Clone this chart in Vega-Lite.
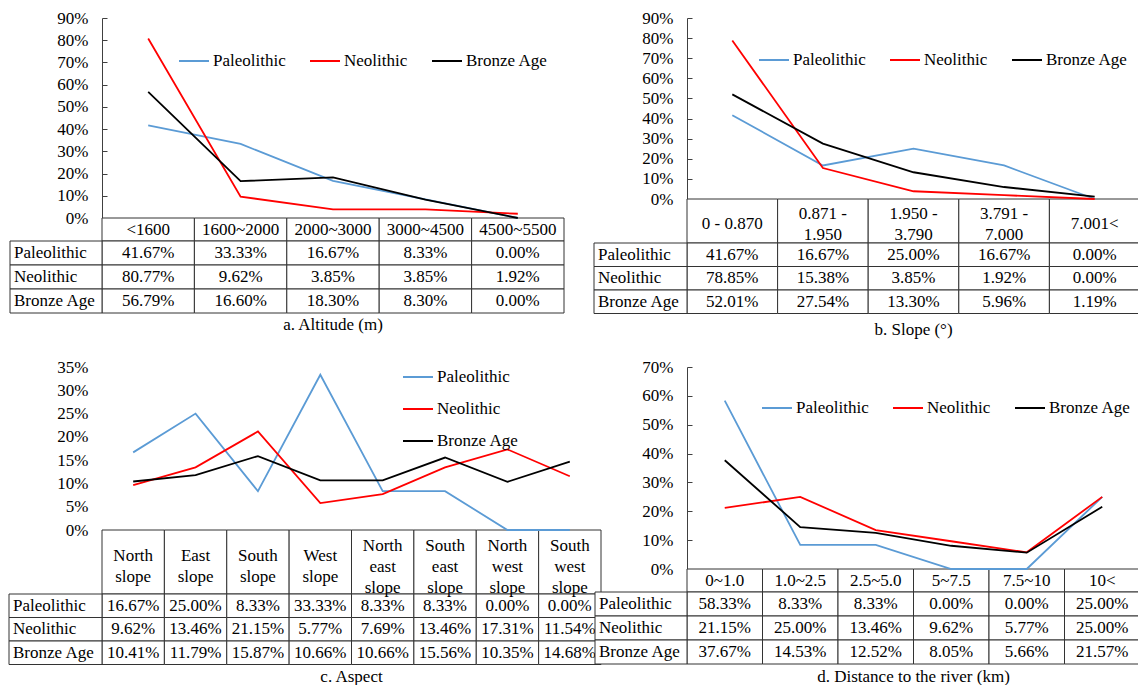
{
  "$schema": "https://vega.github.io/schema/vega-lite/v6.json",
  "padding": {"left": 8, "top": 9, "right": 0, "bottom": 0},
  "background": "white",
  "config": {
    "view": {"stroke": null},
    "font": "Liberation Serif, Times New Roman, serif",
    "title": {"font": "Liberation Serif, Times New Roman, serif", "fontSize": 17, "fontWeight": "normal", "color": "black"},
    "legend": {"labelFont": "Liberation Serif, Times New Roman, serif", "labelFontSize": 17, "labelColor": "black", "symbolType": "stroke", "symbolSize": 900, "symbolStrokeWidth": 2, "labelOffset": 3, "columnPadding": 20, "padding": 0},
    "axis": {"labelFont": "Liberation Serif, Times New Roman, serif", "labelFontSize": 17, "labelColor": "black", "grid": false, "title": null, "domainColor": "#404040", "tickColor": "#404040"},
    "text": {"font": "Liberation Serif, Times New Roman, serif", "fontSize": 17, "fill": "black", "baseline": "middle"}
  },
  "resolve": {"scale": {"color": "independent"}, "legend": {"color": "independent"}},
  "vconcat": [
    {
      "resolve": {"scale": {"color": "independent"}, "legend": {"color": "independent"}},
      "hconcat": [
        {
          "width": 462, "height": 200,
          "title": {"text": "a. Altitude (m)", "orient": "bottom", "offset": 3},
          "data": {"values": [
            {"cat": "<1600", "period": "Paleolithic", "v": 0.4167},
            {"cat": "1600~2000", "period": "Paleolithic", "v": 0.3333},
            {"cat": "2000~3000", "period": "Paleolithic", "v": 0.1667},
            {"cat": "3000~4500", "period": "Paleolithic", "v": 0.0833},
            {"cat": "4500~5500", "period": "Paleolithic", "v": 0.0},
            {"cat": "<1600", "period": "Neolithic", "v": 0.8077},
            {"cat": "1600~2000", "period": "Neolithic", "v": 0.0962},
            {"cat": "2000~3000", "period": "Neolithic", "v": 0.0385},
            {"cat": "3000~4500", "period": "Neolithic", "v": 0.0385},
            {"cat": "4500~5500", "period": "Neolithic", "v": 0.0192},
            {"cat": "<1600", "period": "Bronze Age", "v": 0.5679},
            {"cat": "1600~2000", "period": "Bronze Age", "v": 0.1660},
            {"cat": "2000~3000", "period": "Bronze Age", "v": 0.1830},
            {"cat": "3000~4500", "period": "Bronze Age", "v": 0.0830},
            {"cat": "4500~5500", "period": "Bronze Age", "v": 0.0}
          ]},
          "layer": [
            {
              "transform": [{"filter": "datum.period === 'Paleolithic'"}],
              "mark": {"type": "rect", "fill": "white", "stroke": "#333", "strokeWidth": 1},
              "encoding": {
                "x": {"field": "cat", "type": "nominal", "sort": null, "scale": {"type": "band", "paddingInner": 0, "paddingOuter": 0}, "axis": null},
                "y": {"datum": "H", "type": "nominal", "scale": {"type": "band", "domain": ["H"], "range": [200, 223], "paddingInner": 0, "paddingOuter": 0}, "axis": null}
              }
            },
            {
              "mark": {"type": "rect", "fill": "white", "stroke": "#333", "strokeWidth": 1},
              "encoding": {
                "x": {"field": "cat", "type": "nominal", "sort": null, "scale": {"type": "band", "paddingInner": 0, "paddingOuter": 0}, "axis": null},
                "y": {"field": "period", "type": "nominal", "scale": {"type": "band", "domain": ["Paleolithic", "Neolithic", "Bronze Age"], "range": [223, 295], "paddingInner": 0, "paddingOuter": 0}, "axis": null}
              }
            },
            {
              "data": {"values": [{"period": "Paleolithic"}, {"period": "Neolithic"}, {"period": "Bronze Age"}]},
              "mark": {"type": "rect", "fill": "white", "stroke": "#333", "strokeWidth": 1},
              "encoding": {
                "x": {"datum": "L", "type": "nominal", "scale": {"type": "band", "domain": ["L"], "range": [-92, 0], "paddingInner": 0, "paddingOuter": 0}, "axis": null},
                "y": {"field": "period", "type": "nominal", "scale": {"type": "band", "domain": ["Paleolithic", "Neolithic", "Bronze Age"], "range": [223, 295], "paddingInner": 0, "paddingOuter": 0}, "axis": null}
              }
            },
            {
              "transform": [{"filter": "datum.period === 'Paleolithic'"}],
              "mark": {"type": "text"},
              "encoding": {
                "x": {"field": "cat", "type": "nominal", "sort": null, "scale": {"type": "band", "paddingInner": 0, "paddingOuter": 0}, "axis": null, "bandPosition": 0.5},
                "y": {"datum": "H", "type": "nominal", "scale": {"type": "band", "domain": ["H"], "range": [200, 223], "paddingInner": 0, "paddingOuter": 0}, "axis": null, "bandPosition": 0.5},
                "text": {"field": "cat"}
              }
            },
            {
              "mark": {"type": "text"},
              "encoding": {
                "x": {"field": "cat", "type": "nominal", "sort": null, "scale": {"type": "band", "paddingInner": 0, "paddingOuter": 0}, "axis": null, "bandPosition": 0.5},
                "y": {"field": "period", "type": "nominal", "scale": {"type": "band", "domain": ["Paleolithic", "Neolithic", "Bronze Age"], "range": [223, 295], "paddingInner": 0, "paddingOuter": 0}, "axis": null, "bandPosition": 0.5},
                "text": {"field": "v", "format": ".2%"}
              }
            },
            {
              "data": {"values": [{"period": "Paleolithic"}, {"period": "Neolithic"}, {"period": "Bronze Age"}]},
              "mark": {"type": "text", "align": "left", "dx": 4},
              "encoding": {
                "x": {"datum": "L", "type": "nominal", "scale": {"type": "band", "domain": ["L"], "range": [-92, 0], "paddingInner": 0, "paddingOuter": 0}, "axis": null, "bandPosition": 0},
                "y": {"field": "period", "type": "nominal", "scale": {"type": "band", "domain": ["Paleolithic", "Neolithic", "Bronze Age"], "range": [223, 295], "paddingInner": 0, "paddingOuter": 0}, "axis": null, "bandPosition": 0.5},
                "text": {"field": "period"}
              }
            },
            {
              "mark": {"type": "line", "strokeWidth": 1.8},
              "encoding": {
                "x": {"field": "cat", "type": "nominal", "sort": null, "scale": {"type": "band", "paddingInner": 0, "paddingOuter": 0}, "axis": null, "bandPosition": 0.5},
                "y": {"field": "v", "type": "quantitative", "scale": {"domain": [0, 0.9], "nice": false, "zero": true}, "axis": {"values": [0, 0.1, 0.2, 0.3, 0.4, 0.5, 0.6, 0.7, 0.8, 0.9], "format": ".0%", "tickSize": -5, "labelPadding": 19}},
                "color": {"field": "period", "type": "nominal", "scale": {"domain": ["Paleolithic", "Neolithic", "Bronze Age"], "range": ["#5B9BD5", "#FF0000", "#000000"]}, "legend": {"orient": "none", "legendX": 76, "legendY": 27, "direction": "horizontal", "columns": 3, "title": null}},
                "order": {"value": null}
              }
            }
          ],
          "resolve": {"scale": {"x": "independent", "y": "independent"}}
        },
        {
          "width": 453, "height": 181,
          "title": {"text": "b. Slope (°)", "orient": "bottom", "offset": 8},
          "data": {"values": [
            {"cat": "0 - 0.870", "period": "Paleolithic", "v": 0.4167},
            {"cat": "0.871 -\n1.950", "period": "Paleolithic", "v": 0.1667},
            {"cat": "1.950 -\n3.790", "period": "Paleolithic", "v": 0.25},
            {"cat": "3.791 -\n7.000", "period": "Paleolithic", "v": 0.1667},
            {"cat": "7.001<", "period": "Paleolithic", "v": 0.0},
            {"cat": "0 - 0.870", "period": "Neolithic", "v": 0.7885},
            {"cat": "0.871 -\n1.950", "period": "Neolithic", "v": 0.1538},
            {"cat": "1.950 -\n3.790", "period": "Neolithic", "v": 0.0385},
            {"cat": "3.791 -\n7.000", "period": "Neolithic", "v": 0.0192},
            {"cat": "7.001<", "period": "Neolithic", "v": 0.0},
            {"cat": "0 - 0.870", "period": "Bronze Age", "v": 0.5201},
            {"cat": "0.871 -\n1.950", "period": "Bronze Age", "v": 0.2754},
            {"cat": "1.950 -\n3.790", "period": "Bronze Age", "v": 0.1330},
            {"cat": "3.791 -\n7.000", "period": "Bronze Age", "v": 0.0596},
            {"cat": "7.001<", "period": "Bronze Age", "v": 0.0119}
          ]},
          "layer": [
            {
              "transform": [{"filter": "datum.period === 'Paleolithic'"}],
              "mark": {"type": "rect", "fill": "white", "stroke": "#333", "strokeWidth": 1},
              "encoding": {
                "x": {"field": "cat", "type": "nominal", "sort": null, "scale": {"type": "band", "paddingInner": 0, "paddingOuter": 0}, "axis": null},
                "y": {"datum": "H", "type": "nominal", "scale": {"type": "band", "domain": ["H"], "range": [181, 225], "paddingInner": 0, "paddingOuter": 0}, "axis": null}
              }
            },
            {
              "mark": {"type": "rect", "fill": "white", "stroke": "#333", "strokeWidth": 1},
              "encoding": {
                "x": {"field": "cat", "type": "nominal", "sort": null, "scale": {"type": "band", "paddingInner": 0, "paddingOuter": 0}, "axis": null},
                "y": {"field": "period", "type": "nominal", "scale": {"type": "band", "domain": ["Paleolithic", "Neolithic", "Bronze Age"], "range": [225, 295.5], "paddingInner": 0, "paddingOuter": 0}, "axis": null}
              }
            },
            {
              "data": {"values": [{"period": "Paleolithic"}, {"period": "Neolithic"}, {"period": "Bronze Age"}]},
              "mark": {"type": "rect", "fill": "white", "stroke": "#333", "strokeWidth": 1},
              "encoding": {
                "x": {"datum": "L", "type": "nominal", "scale": {"type": "band", "domain": ["L"], "range": [-93, 0], "paddingInner": 0, "paddingOuter": 0}, "axis": null},
                "y": {"field": "period", "type": "nominal", "scale": {"type": "band", "domain": ["Paleolithic", "Neolithic", "Bronze Age"], "range": [225, 295.5], "paddingInner": 0, "paddingOuter": 0}, "axis": null}
              }
            },
            {
              "transform": [{"filter": "datum.period === 'Paleolithic' && length(datum.cat) <= 9"}],
              "mark": {"type": "text", "dy": 3},
              "encoding": {
                "x": {"field": "cat", "type": "nominal", "scale": {"type": "band", "domain": ["0 - 0.870", "0.871 -\n1.950", "1.950 -\n3.790", "3.791 -\n7.000", "7.001<"], "paddingInner": 0, "paddingOuter": 0}, "axis": null, "bandPosition": 0.5},
                "y": {"datum": "H", "type": "nominal", "scale": {"type": "band", "domain": ["H"], "range": [181, 225], "paddingInner": 0, "paddingOuter": 0}, "axis": null, "bandPosition": 0.5},
                "text": {"field": "cat"}
              }
            },
            {
              "transform": [{"filter": "datum.period === 'Paleolithic' && length(datum.cat) > 9"}],
              "mark": {"type": "text", "lineBreak": "\n", "lineHeight": 21, "dy": -7.5},
              "encoding": {
                "x": {"field": "cat", "type": "nominal", "scale": {"type": "band", "domain": ["0 - 0.870", "0.871 -\n1.950", "1.950 -\n3.790", "3.791 -\n7.000", "7.001<"], "paddingInner": 0, "paddingOuter": 0}, "axis": null, "bandPosition": 0.5},
                "y": {"datum": "H", "type": "nominal", "scale": {"type": "band", "domain": ["H"], "range": [181, 225], "paddingInner": 0, "paddingOuter": 0}, "axis": null, "bandPosition": 0.5},
                "text": {"field": "cat"}
              }
            },
            {
              "mark": {"type": "text"},
              "encoding": {
                "x": {"field": "cat", "type": "nominal", "sort": null, "scale": {"type": "band", "paddingInner": 0, "paddingOuter": 0}, "axis": null, "bandPosition": 0.5},
                "y": {"field": "period", "type": "nominal", "scale": {"type": "band", "domain": ["Paleolithic", "Neolithic", "Bronze Age"], "range": [225, 295.5], "paddingInner": 0, "paddingOuter": 0}, "axis": null, "bandPosition": 0.5},
                "text": {"field": "v", "format": ".2%"}
              }
            },
            {
              "data": {"values": [{"period": "Paleolithic"}, {"period": "Neolithic"}, {"period": "Bronze Age"}]},
              "mark": {"type": "text", "align": "left", "dx": 4},
              "encoding": {
                "x": {"datum": "L", "type": "nominal", "scale": {"type": "band", "domain": ["L"], "range": [-93, 0], "paddingInner": 0, "paddingOuter": 0}, "axis": null, "bandPosition": 0},
                "y": {"field": "period", "type": "nominal", "scale": {"type": "band", "domain": ["Paleolithic", "Neolithic", "Bronze Age"], "range": [225, 295.5], "paddingInner": 0, "paddingOuter": 0}, "axis": null, "bandPosition": 0.5},
                "text": {"field": "period"}
              }
            },
            {
              "mark": {"type": "line", "strokeWidth": 1.8},
              "encoding": {
                "x": {"field": "cat", "type": "nominal", "sort": null, "scale": {"type": "band", "paddingInner": 0, "paddingOuter": 0}, "axis": null, "bandPosition": 0.5},
                "y": {"field": "v", "type": "quantitative", "scale": {"domain": [0, 0.9], "nice": false, "zero": true}, "axis": {"values": [0, 0.1, 0.2, 0.3, 0.4, 0.5, 0.6, 0.7, 0.8, 0.9], "format": ".0%", "tickSize": -5, "labelPadding": 19}},
                "color": {"field": "period", "type": "nominal", "scale": {"domain": ["Paleolithic", "Neolithic", "Bronze Age"], "range": ["#5B9BD5", "#FF0000", "#000000"]}, "legend": {"orient": "none", "legendX": 71, "legendY": 26, "direction": "horizontal", "columns": 3, "title": null}},
                "order": {"value": null}
              }
            }
          ],
          "resolve": {"scale": {"x": "independent", "y": "independent"}}
        }
      ],
      "spacing": 28
    },
    {
      "resolve": {"scale": {"color": "independent"}, "legend": {"color": "independent"}},
      "hconcat": [
        {
          "width": 499, "height": 163,
          "title": {"text": "c. Aspect", "orient": "bottom", "offset": 4},
          "data": {"values": [
            {"cat": "North\nslope", "period": "Paleolithic", "v": 0.1667},
            {"cat": "East\nslope", "period": "Paleolithic", "v": 0.25},
            {"cat": "South\nslope", "period": "Paleolithic", "v": 0.0833},
            {"cat": "West\nslope", "period": "Paleolithic", "v": 0.3333},
            {"cat": "North\neast\nslope", "period": "Paleolithic", "v": 0.0833},
            {"cat": "South\neast\nslope", "period": "Paleolithic", "v": 0.0833},
            {"cat": "North\nwest\nslope", "period": "Paleolithic", "v": 0.0},
            {"cat": "South\nwest\nslope", "period": "Paleolithic", "v": 0.0},
            {"cat": "North\nslope", "period": "Neolithic", "v": 0.0962},
            {"cat": "East\nslope", "period": "Neolithic", "v": 0.1346},
            {"cat": "South\nslope", "period": "Neolithic", "v": 0.2115},
            {"cat": "West\nslope", "period": "Neolithic", "v": 0.0577},
            {"cat": "North\neast\nslope", "period": "Neolithic", "v": 0.0769},
            {"cat": "South\neast\nslope", "period": "Neolithic", "v": 0.1346},
            {"cat": "North\nwest\nslope", "period": "Neolithic", "v": 0.1731},
            {"cat": "South\nwest\nslope", "period": "Neolithic", "v": 0.1154},
            {"cat": "North\nslope", "period": "Bronze Age", "v": 0.1041},
            {"cat": "East\nslope", "period": "Bronze Age", "v": 0.1179},
            {"cat": "South\nslope", "period": "Bronze Age", "v": 0.1587},
            {"cat": "West\nslope", "period": "Bronze Age", "v": 0.1066},
            {"cat": "North\neast\nslope", "period": "Bronze Age", "v": 0.1066},
            {"cat": "South\neast\nslope", "period": "Bronze Age", "v": 0.1556},
            {"cat": "North\nwest\nslope", "period": "Bronze Age", "v": 0.1035},
            {"cat": "South\nwest\nslope", "period": "Bronze Age", "v": 0.1468}
          ]},
          "layer": [
            {
              "transform": [{"filter": "datum.period === 'Paleolithic'"}],
              "mark": {"type": "rect", "fill": "white", "stroke": "#333", "strokeWidth": 1},
              "encoding": {
                "x": {"field": "cat", "type": "nominal", "sort": null, "scale": {"type": "band", "paddingInner": 0, "paddingOuter": 0}, "axis": null},
                "y": {"datum": "H", "type": "nominal", "scale": {"type": "band", "domain": ["H"], "range": [163, 227], "paddingInner": 0, "paddingOuter": 0}, "axis": null}
              }
            },
            {
              "mark": {"type": "rect", "fill": "white", "stroke": "#333", "strokeWidth": 1},
              "encoding": {
                "x": {"field": "cat", "type": "nominal", "sort": null, "scale": {"type": "band", "paddingInner": 0, "paddingOuter": 0}, "axis": null},
                "y": {"field": "period", "type": "nominal", "scale": {"type": "band", "domain": ["Paleolithic", "Neolithic", "Bronze Age"], "range": [227, 297.5], "paddingInner": 0, "paddingOuter": 0}, "axis": null}
              }
            },
            {
              "data": {"values": [{"period": "Paleolithic"}, {"period": "Neolithic"}, {"period": "Bronze Age"}]},
              "mark": {"type": "rect", "fill": "white", "stroke": "#333", "strokeWidth": 1},
              "encoding": {
                "x": {"datum": "L", "type": "nominal", "scale": {"type": "band", "domain": ["L"], "range": [-93, 0], "paddingInner": 0, "paddingOuter": 0}, "axis": null},
                "y": {"field": "period", "type": "nominal", "scale": {"type": "band", "domain": ["Paleolithic", "Neolithic", "Bronze Age"], "range": [227, 297.5], "paddingInner": 0, "paddingOuter": 0}, "axis": null}
              }
            },
            {
              "transform": [{"filter": "datum.period === 'Paleolithic' && indexof(datum.cat, 'east') < 0 && indexof(datum.cat, 'west') < 0"}],
              "mark": {"type": "text", "lineBreak": "\n", "lineHeight": 21, "dy": -6},
              "encoding": {
                "x": {"field": "cat", "type": "nominal", "scale": {"type": "band", "domain": ["North\nslope", "East\nslope", "South\nslope", "West\nslope", "North\neast\nslope", "South\neast\nslope", "North\nwest\nslope", "South\nwest\nslope"], "paddingInner": 0, "paddingOuter": 0}, "axis": null, "bandPosition": 0.5},
                "y": {"datum": "H", "type": "nominal", "scale": {"type": "band", "domain": ["H"], "range": [163, 227], "paddingInner": 0, "paddingOuter": 0}, "axis": null, "bandPosition": 0.5},
                "text": {"field": "cat"}
              }
            },
            {
              "transform": [{"filter": "datum.period === 'Paleolithic' && (indexof(datum.cat, 'east') >= 0 || indexof(datum.cat, 'west') >= 0)"}],
              "mark": {"type": "text", "lineBreak": "\n", "lineHeight": 21, "dy": -16},
              "encoding": {
                "x": {"field": "cat", "type": "nominal", "scale": {"type": "band", "domain": ["North\nslope", "East\nslope", "South\nslope", "West\nslope", "North\neast\nslope", "South\neast\nslope", "North\nwest\nslope", "South\nwest\nslope"], "paddingInner": 0, "paddingOuter": 0}, "axis": null, "bandPosition": 0.5},
                "y": {"datum": "H", "type": "nominal", "scale": {"type": "band", "domain": ["H"], "range": [163, 227], "paddingInner": 0, "paddingOuter": 0}, "axis": null, "bandPosition": 0.5},
                "text": {"field": "cat"}
              }
            },
            {
              "mark": {"type": "text"},
              "encoding": {
                "x": {"field": "cat", "type": "nominal", "sort": null, "scale": {"type": "band", "paddingInner": 0, "paddingOuter": 0}, "axis": null, "bandPosition": 0.5},
                "y": {"field": "period", "type": "nominal", "scale": {"type": "band", "domain": ["Paleolithic", "Neolithic", "Bronze Age"], "range": [227, 297.5], "paddingInner": 0, "paddingOuter": 0}, "axis": null, "bandPosition": 0.5},
                "text": {"field": "v", "format": ".2%"}
              }
            },
            {
              "data": {"values": [{"period": "Paleolithic"}, {"period": "Neolithic"}, {"period": "Bronze Age"}]},
              "mark": {"type": "text", "align": "left", "dx": 4},
              "encoding": {
                "x": {"datum": "L", "type": "nominal", "scale": {"type": "band", "domain": ["L"], "range": [-93, 0], "paddingInner": 0, "paddingOuter": 0}, "axis": null, "bandPosition": 0},
                "y": {"field": "period", "type": "nominal", "scale": {"type": "band", "domain": ["Paleolithic", "Neolithic", "Bronze Age"], "range": [227, 297.5], "paddingInner": 0, "paddingOuter": 0}, "axis": null, "bandPosition": 0.5},
                "text": {"field": "period"}
              }
            },
            {
              "mark": {"type": "line", "strokeWidth": 1.8},
              "encoding": {
                "x": {"field": "cat", "type": "nominal", "sort": null, "scale": {"type": "band", "paddingInner": 0, "paddingOuter": 0}, "axis": null, "bandPosition": 0.5},
                "y": {"field": "v", "type": "quantitative", "scale": {"domain": [0, 0.35], "nice": false, "zero": true}, "axis": {"values": [0, 0.05, 0.1, 0.15, 0.2, 0.25, 0.3, 0.35], "format": ".0%", "domain": false, "ticks": false, "labelPadding": 14}},
                "color": {"field": "period", "type": "nominal", "scale": {"domain": ["Paleolithic", "Neolithic", "Bronze Age"], "range": ["#5B9BD5", "#FF0000", "#000000"]}, "legend": {"orient": "none", "legendX": 300, "legendY": -6, "direction": "vertical", "rowPadding": 8, "title": null}},
                "order": {"value": null}
              }
            }
          ],
          "resolve": {"scale": {"x": "independent", "y": "independent"}}
        },
        {
          "width": 453, "height": 202,
          "title": {"text": "d. Distance to the river (km)", "orient": "bottom", "offset": 4},
          "data": {"values": [
            {"cat": "0~1.0", "period": "Paleolithic", "v": 0.5833},
            {"cat": "1.0~2.5", "period": "Paleolithic", "v": 0.0833},
            {"cat": "2.5~5.0", "period": "Paleolithic", "v": 0.0833},
            {"cat": "5~7.5", "period": "Paleolithic", "v": 0.0},
            {"cat": "7.5~10", "period": "Paleolithic", "v": 0.0},
            {"cat": "10<", "period": "Paleolithic", "v": 0.25},
            {"cat": "0~1.0", "period": "Neolithic", "v": 0.2115},
            {"cat": "1.0~2.5", "period": "Neolithic", "v": 0.25},
            {"cat": "2.5~5.0", "period": "Neolithic", "v": 0.1346},
            {"cat": "5~7.5", "period": "Neolithic", "v": 0.0962},
            {"cat": "7.5~10", "period": "Neolithic", "v": 0.0577},
            {"cat": "10<", "period": "Neolithic", "v": 0.25},
            {"cat": "0~1.0", "period": "Bronze Age", "v": 0.3767},
            {"cat": "1.0~2.5", "period": "Bronze Age", "v": 0.1453},
            {"cat": "2.5~5.0", "period": "Bronze Age", "v": 0.1252},
            {"cat": "5~7.5", "period": "Bronze Age", "v": 0.0805},
            {"cat": "7.5~10", "period": "Bronze Age", "v": 0.0566},
            {"cat": "10<", "period": "Bronze Age", "v": 0.2157}
          ]},
          "layer": [
            {
              "transform": [{"filter": "datum.period === 'Paleolithic'"}],
              "mark": {"type": "rect", "fill": "white", "stroke": "#333", "strokeWidth": 1},
              "encoding": {
                "x": {"field": "cat", "type": "nominal", "sort": null, "scale": {"type": "band", "paddingInner": 0, "paddingOuter": 0}, "axis": null},
                "y": {"datum": "H", "type": "nominal", "scale": {"type": "band", "domain": ["H"], "range": [202, 225], "paddingInner": 0, "paddingOuter": 0}, "axis": null}
              }
            },
            {
              "mark": {"type": "rect", "fill": "white", "stroke": "#333", "strokeWidth": 1},
              "encoding": {
                "x": {"field": "cat", "type": "nominal", "sort": null, "scale": {"type": "band", "paddingInner": 0, "paddingOuter": 0}, "axis": null},
                "y": {"field": "period", "type": "nominal", "scale": {"type": "band", "domain": ["Paleolithic", "Neolithic", "Bronze Age"], "range": [225, 297], "paddingInner": 0, "paddingOuter": 0}, "axis": null}
              }
            },
            {
              "data": {"values": [{"period": "Paleolithic"}, {"period": "Neolithic"}, {"period": "Bronze Age"}]},
              "mark": {"type": "rect", "fill": "white", "stroke": "#333", "strokeWidth": 1},
              "encoding": {
                "x": {"datum": "L", "type": "nominal", "scale": {"type": "band", "domain": ["L"], "range": [-92, 0], "paddingInner": 0, "paddingOuter": 0}, "axis": null},
                "y": {"field": "period", "type": "nominal", "scale": {"type": "band", "domain": ["Paleolithic", "Neolithic", "Bronze Age"], "range": [225, 297], "paddingInner": 0, "paddingOuter": 0}, "axis": null}
              }
            },
            {
              "transform": [{"filter": "datum.period === 'Paleolithic'"}],
              "mark": {"type": "text"},
              "encoding": {
                "x": {"field": "cat", "type": "nominal", "sort": null, "scale": {"type": "band", "paddingInner": 0, "paddingOuter": 0}, "axis": null, "bandPosition": 0.5},
                "y": {"datum": "H", "type": "nominal", "scale": {"type": "band", "domain": ["H"], "range": [202, 225], "paddingInner": 0, "paddingOuter": 0}, "axis": null, "bandPosition": 0.5},
                "text": {"field": "cat"}
              }
            },
            {
              "mark": {"type": "text"},
              "encoding": {
                "x": {"field": "cat", "type": "nominal", "sort": null, "scale": {"type": "band", "paddingInner": 0, "paddingOuter": 0}, "axis": null, "bandPosition": 0.5},
                "y": {"field": "period", "type": "nominal", "scale": {"type": "band", "domain": ["Paleolithic", "Neolithic", "Bronze Age"], "range": [225, 297], "paddingInner": 0, "paddingOuter": 0}, "axis": null, "bandPosition": 0.5},
                "text": {"field": "v", "format": ".2%"}
              }
            },
            {
              "data": {"values": [{"period": "Paleolithic"}, {"period": "Neolithic"}, {"period": "Bronze Age"}]},
              "mark": {"type": "text", "align": "left", "dx": 4},
              "encoding": {
                "x": {"datum": "L", "type": "nominal", "scale": {"type": "band", "domain": ["L"], "range": [-92, 0], "paddingInner": 0, "paddingOuter": 0}, "axis": null, "bandPosition": 0},
                "y": {"field": "period", "type": "nominal", "scale": {"type": "band", "domain": ["Paleolithic", "Neolithic", "Bronze Age"], "range": [225, 297], "paddingInner": 0, "paddingOuter": 0}, "axis": null, "bandPosition": 0.5},
                "text": {"field": "period"}
              }
            },
            {
              "mark": {"type": "line", "strokeWidth": 1.8},
              "encoding": {
                "x": {"field": "cat", "type": "nominal", "sort": null, "scale": {"type": "band", "paddingInner": 0, "paddingOuter": 0}, "axis": null, "bandPosition": 0.5},
                "y": {"field": "v", "type": "quantitative", "scale": {"domain": [0, 0.7], "nice": false, "zero": true}, "axis": {"values": [0, 0.1, 0.2, 0.3, 0.4, 0.5, 0.6, 0.7], "format": ".0%", "tickSize": -5, "labelPadding": 19}},
                "color": {"field": "period", "type": "nominal", "scale": {"domain": ["Paleolithic", "Neolithic", "Bronze Age"], "range": ["#5B9BD5", "#FF0000", "#000000"]}, "legend": {"orient": "none", "legendX": 74, "legendY": 25, "direction": "horizontal", "columns": 3, "title": null}},
                "order": {"value": null}
              }
            }
          ],
          "resolve": {"scale": {"x": "independent", "y": "independent"}}
        }
      ],
      "spacing": -8
    }
  ],
  "spacing": 20
}
